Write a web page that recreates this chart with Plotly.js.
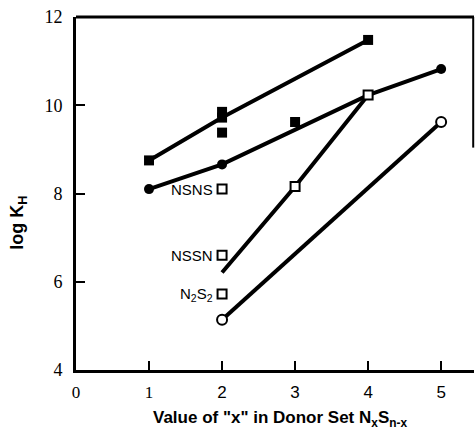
<!DOCTYPE html>
<html>
<head>
<meta charset="utf-8">
<script src="https://cdn.plot.ly/plotly-3.0.1.min.js"></script>
<style>html,body{margin:0;padding:0;background:#fff;}#chart{width:475px;height:430px;}</style>
</head>
<body>
<div id="chart"></div>
<script>
// Data
var filledSquareX = [1, 2, 2, 2, 3, 4];
var filledSquareY = [8.75, 9.85, 9.72, 9.38, 9.62, 11.48];
var filledSquareLineX = [1, 2, 4];
var filledSquareLineY = [8.75, 9.72, 11.48];

var filledCircleX = [1, 2, 5];
var filledCircleY = [8.1, 8.66, 10.82];
var filledCircleLineX = [1, 2, 4, 5];
var filledCircleLineY = [8.1, 8.66, 10.23, 10.82];

var openSquareX = [2, 2, 2, 3, 4];
var openSquareY = [8.1, 6.6, 5.72, 8.16, 10.23];
var openSquareLineX = [2, 3, 4];
var openSquareLineY = [6.21, 8.16, 10.23];

var openCircleX = [2, 5];
var openCircleY = [5.14, 9.62];

var labelTexts = ["NSNS", "NSSN", "N<sub>2</sub>S<sub>2</sub>"];
var labelX = [2, 2, 2];
var labelY = [8.1, 6.6, 5.72];

var xTickVals = [0, 1, 2, 3, 4, 5];
var xTickText = ["0", "1", "2", "3", "4", "5"];
var xTickSerif = [true, true, false, false, false, false];
var yTickVals = [4, 6, 8, 10, 12];
var yTickText = ["4", "6", "8", "10", "12"];

var lineStyle = {color: '#000', width: 4};
var traces = [
  {x: filledSquareLineX, y: filledSquareLineY, mode: 'lines', line: lineStyle, hoverinfo: 'skip'},
  {x: filledCircleLineX, y: filledCircleLineY, mode: 'lines', line: lineStyle, hoverinfo: 'skip'},
  {x: openSquareLineX, y: openSquareLineY, mode: 'lines', line: lineStyle, hoverinfo: 'skip'},
  {x: openCircleX, y: openCircleY, mode: 'lines', line: lineStyle, hoverinfo: 'skip'},
  {x: filledSquareX, y: filledSquareY, mode: 'markers',
   marker: {symbol: 'square', size: 10, color: '#000', line: {width: 0}}},
  {x: filledCircleX, y: filledCircleY, mode: 'markers',
   marker: {symbol: 'circle', size: 10, color: '#000', line: {width: 0}}},
  {x: openSquareX, y: openSquareY, mode: 'markers',
   marker: {symbol: 'square', size: 9, color: '#fff', line: {width: 2, color: '#000'}}},
  {x: openCircleX, y: openCircleY, mode: 'markers',
   marker: {symbol: 'circle', size: 10, color: '#fff', line: {width: 2, color: '#000'}}}
];

var annotations = labelTexts.map(function (t, i) {
  return {x: labelX[i], y: labelY[i], xref: 'x', yref: 'y', text: t, showarrow: false,
    xanchor: 'right', yanchor: 'middle', xshift: -7,
    font: {family: 'Liberation Sans, Arial, sans-serif', size: 15, color: '#000'}};
});
annotations.push({
  xref: 'paper', yref: 'paper', x: 0.512, y: 0, yanchor: 'top', xanchor: 'center', yshift: -36,
  text: 'Value of "x" in Donor Set N<sub>x</sub>S<sub>n-x</sub>', showarrow: false,
  font: {family: 'Liberation Sans, Arial, sans-serif', size: 17, color: '#000', weight: 'bold'}
});
annotations.push({
  xref: 'paper', yref: 'paper', x: 0, y: 0.417, xanchor: 'center', yanchor: 'middle', xshift: -57,
  text: 'log K<sub>H</sub>', textangle: -90, showarrow: false,
  font: {family: 'Liberation Sans, Arial, sans-serif', size: 18, color: '#000', weight: 'bold'}
});

var layout = {
  width: 475, height: 430,
  margin: {l: 76, r: 1, t: 17, b: 60},
  paper_bgcolor: '#fff', plot_bgcolor: '#fff',
  showlegend: false,
  xaxis: {
    range: [0, 5.45], tickvals: xTickVals,
    ticktext: xTickText.map(function (t, i) {
      return xTickSerif[i] ? '<span style="font-family:Liberation Serif, Times New Roman, serif">' + t + '</span>' : t;
    }),
    ticks: 'inside', ticklen: 9, tickwidth: 2, tickcolor: '#000', ticklabelstandoff: 5,
    showline: true, linewidth: 3, linecolor: '#000', mirror: false,
    showgrid: false, zeroline: false,
    tickfont: {family: 'Liberation Sans, Arial, sans-serif', size: 17, color: '#000'}
  },
  yaxis: {
    range: [4, 12], tickvals: yTickVals, ticktext: yTickText,
    ticks: 'inside', ticklen: 9, tickwidth: 2, tickcolor: '#000', ticklabelstandoff: 7,
    showline: true, linewidth: 3, linecolor: '#000', mirror: false,
    showgrid: false, zeroline: false,
    tickfont: {family: 'Liberation Serif, Times New Roman, serif', size: 18, color: '#000'}
  },
  shapes: [
    {type: 'line', xref: 'paper', yref: 'paper', x0: 0, x1: 1, y0: 1, y1: 1,
     line: {color: '#000', width: 3}},
    {type: 'line', xref: 'paper', yref: 'paper', x0: 0.998, x1: 0.998, y0: 1, y1: 0.63,
     line: {color: '#000', width: 2}}
  ],
  annotations: annotations
};

Plotly.newPlot('chart', traces, layout, {displayModeBar: false, staticPlot: true});
</script>
</body>
</html>
